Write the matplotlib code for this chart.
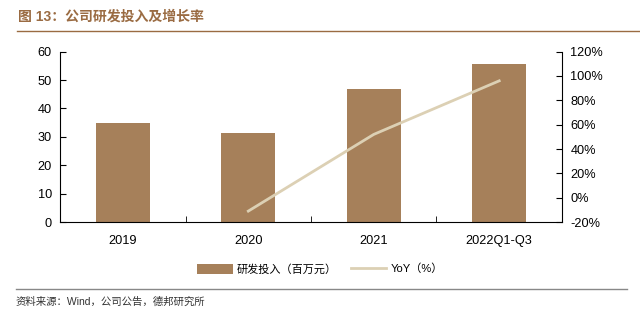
import matplotlib.pyplot as plt
from matplotlib.patches import Patch
from matplotlib.lines import Line2D
from matplotlib.ticker import FuncFormatter

plt.rcParams['font.family'] = ['Liberation Sans', 'Noto Sans CJK SC', 'DejaVu Sans']

# ── Data ─────────────────────────────────────────────────────────────────────
periods = ['2019', '2020', '2021', '2022Q1-Q3']
rd_spend = [34.9, 31.2, 46.8, 55.7]          # 百万元
yoy_periods = [1, 2, 3]                       # YoY starts at 2020
yoy_pct = [-11, 52, 96]

bar_colour = '#a6805a'
line_colour = '#dcd0b4'
brown = '#9a6b42'

fig = plt.figure(figsize=(6.4, 3.11), dpi=100)
ax = fig.add_axes([0.094, 0.286, 0.784, 0.548])

x = list(range(len(periods)))
ax.bar(x, rd_spend, width=0.43, color=bar_colour, zorder=2)
ax.set_xlim(-0.5, 3.5)
ax.set_ylim(0, 60)
ax.set_yticks(range(0, 61, 10))
ax.set_xticks(x)
ax.set_xticklabels(periods)
ax.set_xticks([0.5, 1.5, 2.5], minor=True)
ax.tick_params(axis='x', which='major', length=0, pad=9, labelsize=9.2)
ax.tick_params(axis='x', which='minor', length=4, direction='in')
ax.tick_params(axis='y', length=4, direction='in', labelsize=9.2, pad=6)
for s in ['top', 'right']:
    ax.spines[s].set_visible(False)

ax2 = ax.twinx()
ax2.plot(yoy_periods, yoy_pct, color=line_colour, linewidth=2, zorder=3)
ax2.set_ylim(-20, 120)
ax2.set_yticks(range(-20, 121, 20))
ax2.yaxis.set_major_formatter(FuncFormatter(lambda v, _: f'{v:.0f}%'))
ax2.tick_params(axis='y', length=4, direction='in', labelsize=9.2, pad=6)
for s in ['top', 'left', 'bottom']:
    ax2.spines[s].set_visible(False)

# legend
handles = [Patch(facecolor=bar_colour, edgecolor='none'),
           Line2D([], [], color=line_colour, linewidth=2)]
fig.legend(handles, ['研发投入（百万元）', 'YoY（%）'], loc='center',
           bbox_to_anchor=(0.5, 0.135), ncol=2, frameon=False, fontsize=8,
           handlelength=3.2, handleheight=1.0, columnspacing=1.2,
           handletextpad=0.4)

# title and source
fig.text(0.028, 0.945, '图 13：公司研发投入及增长率', color=brown,
         fontsize=10, fontweight='bold', va='center')
fig.add_artist(Line2D([0.027, 1.0], [0.9, 0.9], color=brown, linewidth=1))
fig.add_artist(Line2D([0.025, 0.98], [0.07, 0.07], color='#888888', linewidth=1))
fig.text(0.025, 0.03, '资料来源：Wind，公司公告，德邦研究所', color='#333333',
         fontsize=7.5, va='center')

fig.savefig('out.png', dpi=100)
